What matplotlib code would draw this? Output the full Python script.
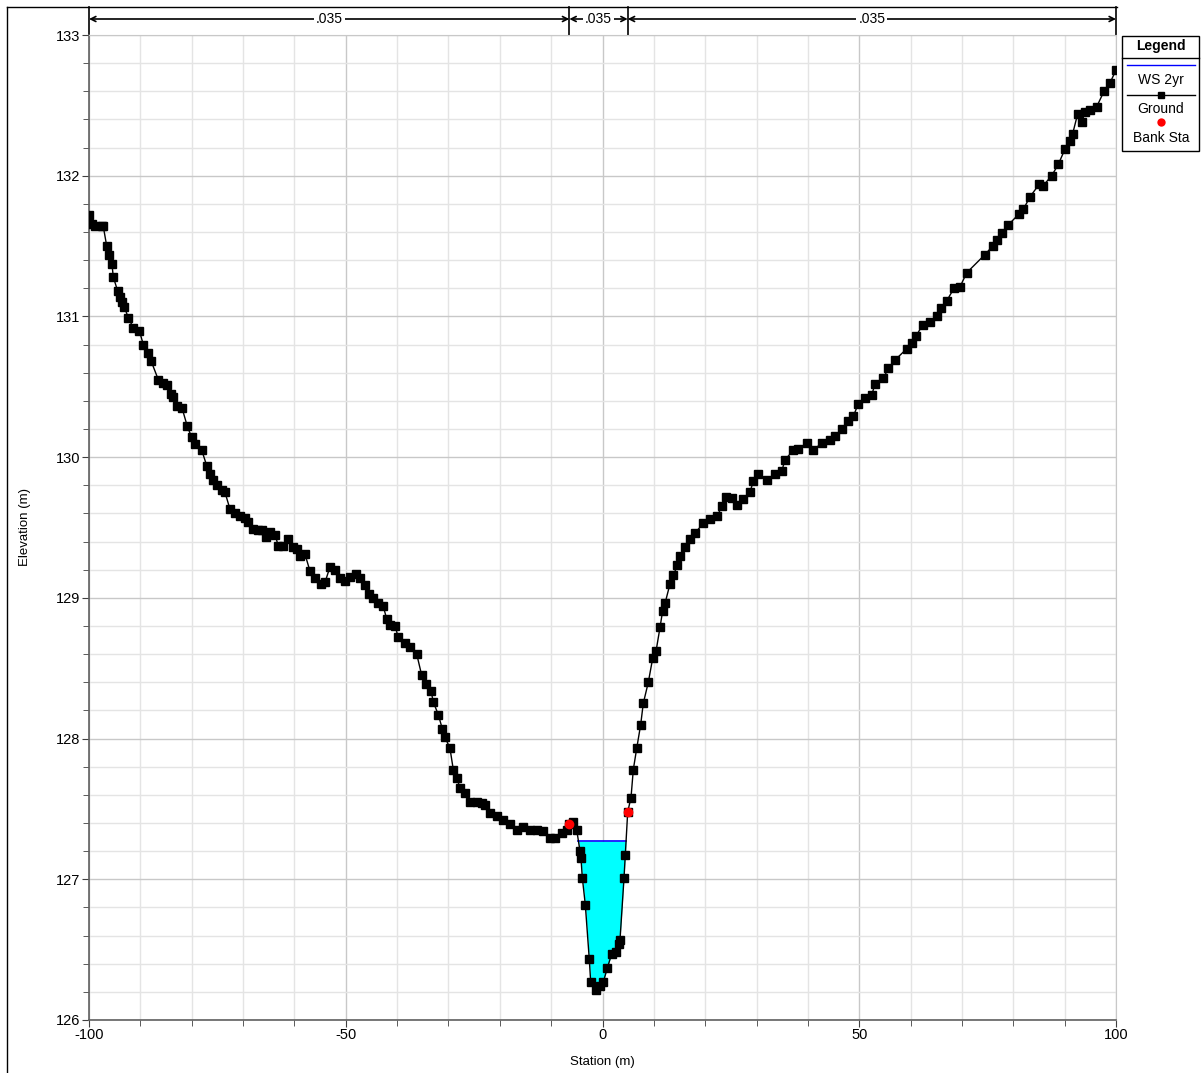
import numpy as np
import matplotlib
matplotlib.use("Agg")
import matplotlib.pyplot as plt
from matplotlib.lines import Line2D
from matplotlib.patches import Rectangle

plt.rcParams['font.family'] = ['Liberation Sans', 'DejaVu Sans']
plt.rcParams['axes.unicode_minus'] = False

# ground profile (station m, elevation m)
station = [
    -100.0, -99.47, -98.83, -97.53, -97.22, -96.55, -96.05, -95.52, -95.27, -94.41,
    -93.96, -93.57, -93.13, -92.35, -91.37, -90.20, -89.43, -88.57, -87.87, -86.50,
    -85.65, -84.75, -84.03, -83.58, -82.80, -81.89, -80.86, -80.00, -79.36, -78.05,
    -77.08, -76.44, -75.79, -75.13, -74.16, -73.52, -72.54, -71.57, -70.59, -69.62,
    -68.98, -68.00, -67.03, -66.37, -65.53, -64.75, -63.78, -63.14, -62.16, -61.19,
    -60.22, -59.55, -58.91, -57.94, -56.96, -55.99, -54.88, -54.04, -53.07, -52.09,
    -51.12, -50.15, -49.17, -48.00, -47.23, -46.25, -45.41, -44.64, -43.66, -42.69,
    -42.03, -41.38, -40.41, -39.77, -38.46, -37.49, -36.18, -35.21, -34.37, -33.40,
    -32.95, -31.98, -31.20, -30.67, -29.70, -29.06, -28.39, -27.75, -26.78, -25.80,
    -24.50, -23.53, -22.88, -21.91, -20.60, -19.32, -18.01, -16.71, -15.42, -14.12,
    -12.81, -11.53, -10.22, -9.25, -7.95, -6.97, -6.46, -5.80, -5.02,
    -4.38, -4.19, -3.93, -3.35, -2.57, -2.30, -1.27, -0.49, 0.16, 0.94,
    1.79, 2.63, 3.15, 3.41, 4.19, 4.44, 4.91, 5.55, 6.00, 6.66,
    7.44, 7.94, 8.92, 9.77, 10.42, 11.20, 11.72, 12.17, 13.15, 13.79,
    14.57, 15.09, 16.07, 17.04, 18.01, 19.63, 20.94, 22.36, 23.21, 24.05,
    25.16, 26.13, 27.42, 28.72, 29.37, 30.34, 31.98, 33.59, 34.90, 35.54,
    37.16, 38.13, 39.77, 41.05, 42.69, 44.31, 45.28, 46.58, 47.87, 48.84,
    49.82, 51.12, 52.42, 53.07, 54.68, 55.66, 56.96, 59.24, 60.21, 61.05,
    62.35, 63.77, 65.20, 65.86, 67.02, 68.45, 69.62, 70.92, 74.49, 75.98,
    76.76, 77.74, 79.02, 81.16, 81.94, 83.25, 85.06, 85.84, 87.47, 88.76,
    90.07, 91.04, 91.57, 92.54, 93.32, 93.96, 94.93, 96.24, 97.66, 98.83,
    100.0,
]
elevation = [
    131.72, 131.66, 131.64, 131.64, 131.64, 131.50, 131.44, 131.37, 131.28, 131.18,
    131.14, 131.10, 131.07, 130.99, 130.92, 130.90, 130.80, 130.74, 130.68, 130.55,
    130.53, 130.51, 130.45, 130.43, 130.36, 130.35, 130.22, 130.14, 130.09, 130.05,
    129.94, 129.88, 129.84, 129.80, 129.77, 129.75, 129.63, 129.60, 129.58, 129.57,
    129.54, 129.49, 129.48, 129.48, 129.43, 129.47, 129.45, 129.37, 129.37, 129.42,
    129.36, 129.35, 129.30, 129.31, 129.19, 129.14, 129.10, 129.11, 129.22, 129.20,
    129.14, 129.12, 129.15, 129.17, 129.14, 129.09, 129.03, 129.00, 128.96, 128.94,
    128.85, 128.81, 128.80, 128.72, 128.68, 128.65, 128.60, 128.45, 128.39, 128.34,
    128.26, 128.17, 128.07, 128.01, 127.93, 127.78, 127.72, 127.65, 127.61, 127.55,
    127.55, 127.54, 127.53, 127.47, 127.45, 127.42, 127.39, 127.35, 127.37, 127.35,
    127.35, 127.34, 127.29, 127.29, 127.33, 127.35, 127.39, 127.41, 127.35,
    127.20, 127.15, 127.01, 126.82, 126.43, 126.27, 126.21, 126.24, 126.27, 126.37,
    126.47, 126.48, 126.54, 126.57, 127.01, 127.17, 127.48, 127.58, 127.78, 127.93,
    128.10, 128.25, 128.40, 128.57, 128.62, 128.79, 128.91, 128.96, 129.10, 129.16,
    129.23, 129.30, 129.36, 129.42, 129.46, 129.53, 129.56, 129.58, 129.65, 129.72,
    129.71, 129.66, 129.70, 129.75, 129.83, 129.88, 129.84, 129.88, 129.90, 129.98,
    130.05, 130.06, 130.10, 130.05, 130.10, 130.12, 130.15, 130.20, 130.26, 130.29,
    130.38, 130.42, 130.44, 130.52, 130.56, 130.63, 130.69, 130.77, 130.81, 130.86,
    130.94, 130.96, 131.00, 131.06, 131.11, 131.20, 131.21, 131.31, 131.44, 131.50,
    131.54, 131.59, 131.65, 131.73, 131.76, 131.85, 131.94, 131.93, 132.00, 132.08,
    132.19, 132.25, 132.30, 132.44, 132.38, 132.45, 132.47, 132.49, 132.60, 132.66,
    132.75,
]

bank_sta = [-6.46, 4.91]
bank_elev = [127.39, 127.48]
ws_elev = 127.27
mannings_n = ['.035', '.035', '.035']

sta = np.array(station)
elev = np.array(elevation)

fig = plt.figure(figsize=(12.03, 10.73), dpi=100)
ax = fig.add_axes([89 / 1203, 1 - 1020 / 1073, (1116 - 89) / 1203, (1020 - 35) / 1073])

# water surface in the main channel
xf = np.linspace(bank_sta[0], bank_sta[1], 3000)
gf = np.interp(xf, sta, elev)
wet = gf < ws_elev
ax.fill_between(xf, gf, ws_elev, where=wet, color='#00ffff', lw=0, zorder=2)
ax.plot([xf[wet].min(), xf[wet].max()], [ws_elev, ws_elev], color='#0000ff', lw=1.2, zorder=3)

ax.plot(sta, elev, color='black', lw=1, marker='s', markersize=5.5, zorder=4)
ax.plot(bank_sta, bank_elev, 'o', color='#ff0000', markersize=7, markeredgewidth=0, zorder=5)

ax.set_xlim(-100, 100)
ax.set_ylim(126, 133)
ax.set_xticks([-100, -50, 0, 50, 100])
ax.set_xticks(np.arange(-100, 101, 10), minor=True)
ax.set_yticks(np.arange(126, 134, 1))
ax.set_yticks(np.arange(126, 133.01, 0.2), minor=True)
ax.grid(which='major', color='#c8c8c8', lw=1)
ax.grid(which='minor', color='#e4e4e4', lw=1)
ax.set_axisbelow(True)
ax.tick_params(which='both', direction='out', color='#404040', labelsize=10.5, pad=1)
ax.tick_params(which='major', length=5)
ax.tick_params(which='minor', length=4)
ax.tick_params(axis='x', pad=1)
for s in ['top', 'right']:
    ax.spines[s].set_color('#c8c8c8')
for s in ['left', 'bottom']:
    ax.spines[s].set_color('#606060')
    ax.spines[s].set_linewidth(1.2)

ax.set_xlabel('Station (m)', fontsize=9.5, labelpad=10)
ax.set_ylabel('Elevation (m)', fontsize=9.5, labelpad=18)

# Manning's n bands above the plot
edges = [-100, bank_sta[0], bank_sta[1], 100]
y_arrow = 133 + 16 / 140.7
y_top = 133 + 28 / 140.7
for e in edges:
    ax.plot([e, e], [133, y_top], color='black', lw=1.2, clip_on=False)
for i, n in enumerate(mannings_n):
    ax.annotate('', xy=(edges[i], y_arrow), xytext=(edges[i + 1], y_arrow),
                arrowprops=dict(arrowstyle='<->', color='black', lw=1.2,
                                shrinkA=0, shrinkB=0, mutation_scale=9),
                annotation_clip=False)
    ax.text((edges[i] + edges[i + 1]) / 2, y_arrow, n, ha='center', va='center',
            fontsize=10, bbox=dict(facecolor='white', edgecolor='none', pad=1.5),
            clip_on=False)

# outer frame lines
fig.add_artist(Line2D([7 / 1203, 7 / 1203], [0, 1 - 7 / 1073], color='black', lw=1))
fig.add_artist(Line2D([7 / 1203, 1117 / 1203], [1 - 7 / 1073, 1 - 7 / 1073], color='black', lw=1))

# legend box
def fx(px):
    return px / 1203


def fy(py):
    return 1 - py / 1073


fig.add_artist(Rectangle((fx(1122), fy(151)), fx(1199) - fx(1122), fy(36) - fy(151),
                         facecolor='white', edgecolor='black', lw=1))
fig.add_artist(Line2D([fx(1122), fx(1199)], [fy(58), fy(58)], color='black', lw=1))
fig.text(fx(1161), fy(46), 'Legend', ha='center', va='center', fontsize=10, fontweight='bold')
fig.add_artist(Line2D([fx(1127), fx(1195)], [fy(65), fy(65)], color='#0000ff', lw=1))
fig.text(fx(1161), fy(80), 'WS 2yr', ha='center', va='center', fontsize=10)
fig.add_artist(Line2D([fx(1127), fx(1195)], [fy(95), fy(95)], color='black', lw=1))
fig.add_artist(Line2D([fx(1161)], [fy(95)], marker='s', markersize=4.5, color='black'))
fig.text(fx(1161), fy(109), 'Ground', ha='center', va='center', fontsize=10)
fig.add_artist(Line2D([fx(1161)], [fy(122)], marker='o', markersize=6, color='#ff0000',
                      markeredgewidth=0))
fig.text(fx(1161), fy(138), 'Bank Sta', ha='center', va='center', fontsize=10)

fig.savefig('out.png', dpi=100)
